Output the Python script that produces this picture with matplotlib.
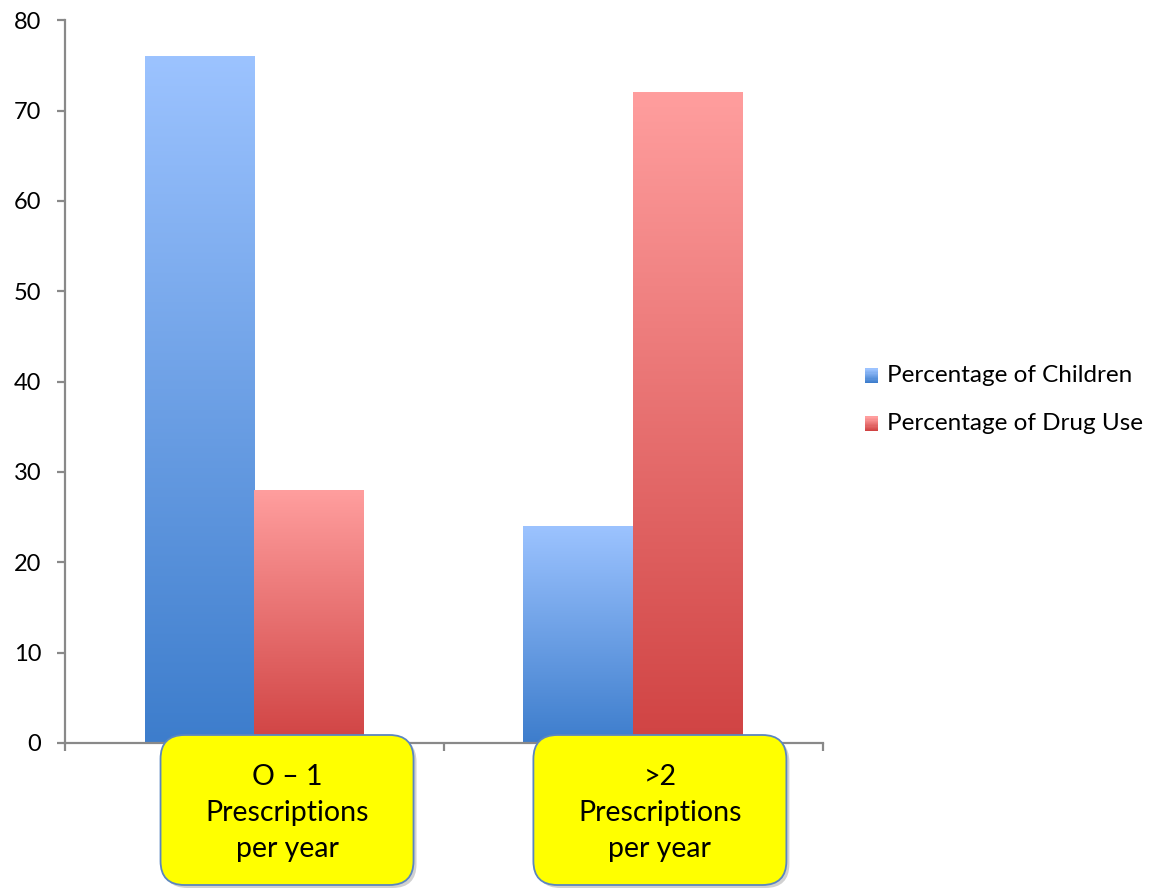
import numpy as np
import matplotlib.pyplot as plt
from matplotlib.patches import FancyBboxPatch, Rectangle
from matplotlib.colors import LinearSegmentedColormap
from matplotlib.legend_handler import HandlerBase
from matplotlib.transforms import IdentityTransform

plt.rcParams['font.family'] = ['Lato', 'DejaVu Sans']

categories = ["O \u2013 1\nPrescriptions\nper year", ">2\nPrescriptions\nper year"]
series_names = ["Percentage of Children", "Percentage of Drug Use"]
children = [76, 24]
drug_use = [28, 72]

# top / bottom colour of each series gradient
grad_colors = [("#9cc3ff", "#3d7dcc"), ("#ff9e9e", "#d04343")]

fig = plt.figure(figsize=(11.5, 8.88), dpi=100)
ax = fig.add_axes([0.0565, 0.1633, 0.659, 0.814])

x = np.arange(len(categories))
width = 0.29
gradient = np.linspace(0, 1, 256).reshape(-1, 1)

for k, (vals, (c_top, c_bot)) in enumerate(zip([children, drug_use], grad_colors)):
    cmap = LinearSegmentedColormap.from_list("g%d" % k, [c_bot, c_top])
    offs = (k - 0.5) * width
    bars = ax.bar(x + offs, vals, width, color="none", edgecolor="none", zorder=2)
    for b in bars:
        x0, y0 = b.get_x(), b.get_y()
        ax.imshow(gradient, cmap=cmap, origin="lower", aspect="auto",
                  extent=(x0, x0 + b.get_width(), y0, y0 + b.get_height()), zorder=2)

ax.set_xlim(-0.5, 1.5)
ax.set_ylim(0, 80)
ax.set_yticks(range(0, 81, 10))
ax.set_xticks([-0.5, 0.5, 1.5])
ax.set_xticklabels([])

spine_c = "#898989"
for s in ["top", "right"]:
    ax.spines[s].set_visible(False)
for s in ["left", "bottom"]:
    ax.spines[s].set_color(spine_c)
    ax.spines[s].set_linewidth(1.6)
ax.tick_params(axis="both", direction="out", length=6, width=1.6, color=spine_c,
               labelsize=17, pad=11)

# legend with small gradient squares
class GradHandler(HandlerBase):
    def __init__(self, top, bot):
        super().__init__()
        self.cmap = LinearSegmentedColormap.from_list("h", [bot, top])

    def create_artists(self, legend, orig, xd, yd, w, h, fontsize, trans):
        n = 12
        arts = []
        for i in range(n):
            r = Rectangle((xd, yd + h * i / n), w, h / n + 0.3,
                          facecolor=self.cmap(i / (n - 1)), edgecolor="none", transform=trans)
            arts.append(r)
        return arts

handles = [Rectangle((0, 0), 1, 1) for _ in series_names]
fig.legend(handles, series_names, loc="center left", bbox_to_anchor=(0.752, 0.55),
           frameon=False, fontsize=17.5, borderpad=0, borderaxespad=0,
           handlelength=0.55, handleheight=0.55, handletextpad=0.35, labelspacing=1.12,
           handler_map={handles[i]: GradHandler(*grad_colors[i]) for i in range(2)})

# yellow call-out boxes under the categories
fig.canvas.draw()
box_w, box_h = 253, 150
box_shift = [0.086, 0.07]
for i, label in enumerate(categories):
    cx = ax.transData.transform((x[i] + box_shift[i], 0))[0]
    x0, y0 = cx - box_w / 2, 3
    shadow = FancyBboxPatch((x0 + 3, y0 - 3), box_w, box_h,
                            boxstyle="round,pad=0,rounding_size=24",
                            facecolor="#000000", alpha=0.18, edgecolor="none",
                            transform=IdentityTransform(), zorder=4)
    box = FancyBboxPatch((x0, y0), box_w, box_h,
                         boxstyle="round,pad=0,rounding_size=24",
                         facecolor="#ffff00", edgecolor="#5b86c0", linewidth=1.3,
                         transform=IdentityTransform(), zorder=5)
    fig.patches.extend([shadow, box])
    fig.text(cx, y0 + box_h / 2 - 3, label, transform=IdentityTransform(),
             ha="center", va="center", fontsize=20.5, linespacing=1.47, zorder=6)

fig.savefig("out.png", dpi=100)
